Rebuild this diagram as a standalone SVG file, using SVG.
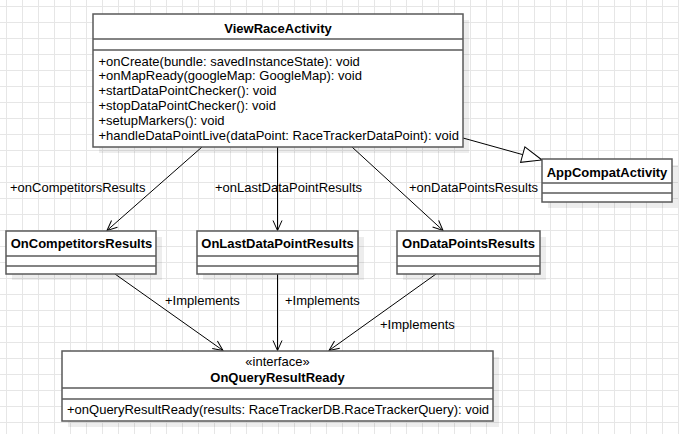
<svg xmlns="http://www.w3.org/2000/svg" width="679" height="434" viewBox="0 0 679 434">
<style>
.box{fill:#ffffff;stroke:#5a5a5a;stroke-width:1.5}
.sh{fill:#000000;fill-opacity:0.07}
.div{stroke:#5a5a5a;stroke-width:1.5}
.t{font-family:"Liberation Sans",Arial,sans-serif;font-size:13px;fill:#000000}
.b{font-weight:bold;text-anchor:middle}
.c{text-anchor:middle}
.edge{stroke:#000000;stroke-width:1;fill:none}
.grid{stroke:#e6e6e6;stroke-width:1}
</style>
<defs>
<marker id="open" markerUnits="userSpaceOnUse" markerWidth="12" markerHeight="12" refX="10" refY="5" orient="auto" overflow="visible">
<path d="M0,0.5 L10,5 L0,9.5" fill="none" stroke="#000000" stroke-width="1"/>
</marker>
<marker id="tri" markerUnits="userSpaceOnUse" markerWidth="22" markerHeight="18" refX="20" refY="8" orient="auto" overflow="visible">
<path d="M0,0 L20,8 L0,16 Z" fill="#ffffff" stroke="#000000" stroke-width="1"/>
</marker>
<pattern id="gp" x="6" y="6" width="16" height="16" patternUnits="userSpaceOnUse">
<path d="M0.5,0 V16 M0,0.5 H16" class="grid"/>
</pattern>
</defs>
<rect x="0" y="0" width="679" height="434" fill="#ffffff"/>
<rect x="0" y="0" width="679" height="434" fill="url(#gp)"/>

<g id="connectors">
<line class="edge" x1="202" y1="147" x2="107" y2="230.5" marker-end="url(#open)"/>
<line class="edge" x1="277.5" y1="147" x2="277.5" y2="230.5" marker-end="url(#open)"/>
<line class="edge" x1="352" y1="147" x2="443" y2="230.5" marker-end="url(#open)"/>
<line class="edge" x1="463" y1="138" x2="542" y2="160" marker-end="url(#tri)"/>
<line class="edge" x1="115" y1="274" x2="223" y2="350.5" marker-end="url(#open)"/>
<line class="edge" x1="277.5" y1="274" x2="277.5" y2="350.5" marker-end="url(#open)"/>
<line class="edge" x1="436" y1="274" x2="329" y2="350.5" marker-end="url(#open)"/>
<text class="t" x="10" y="191.5">+onCompetitorsResults</text>
<text class="t" x="215" y="191.5">+onLastDataPointResults</text>
<text class="t" x="409" y="191.5">+onDataPointsResults</text>
<text class="t" x="165" y="304.5">+Implements</text>
<text class="t" x="285" y="304.5">+Implements</text>
<text class="t" x="380" y="328.5">+Implements</text>
</g>

<g id="ViewRaceActivity">
<rect class="sh" x="99" y="20" width="370" height="133"/>
<rect class="box" x="93" y="14" width="370" height="133"/>
<line class="div" x1="93" y1="39" x2="463" y2="39"/>
<line class="div" x1="93" y1="50" x2="463" y2="50"/>
<text class="t b" x="278" y="33">ViewRaceActivity</text>
<text class="t" x="98.5" y="65.5">+onCreate(bundle: savedInstanceState): void</text>
<text class="t" x="98.5" y="80.3">+onMapReady(googleMap: GoogleMap): void</text>
<text class="t" x="98.5" y="95.1">+startDataPointChecker(): void</text>
<text class="t" x="98.5" y="109.9">+stopDataPointChecker(): void</text>
<text class="t" x="98.5" y="124.7">+setupMarkers(): void</text>
<text class="t" x="98.5" y="139.5">+handleDataPointLive(dataPoint: RaceTrackerDataPoint): void</text>
</g>

<g id="AppCompatActivity">
<rect class="sh" x="548" y="165" width="130" height="43"/>
<rect class="box" x="542" y="159" width="130" height="43"/>
<line class="div" x1="542" y1="183" x2="672" y2="183"/>
<line class="div" x1="542" y1="193" x2="672" y2="193"/>
<text class="t b" x="607" y="176.5">AppCompatActivity</text>
</g>

<g id="OnCompetitorsResults">
<rect class="sh" x="12" y="237" width="150" height="43"/>
<rect class="box" x="6" y="231" width="150" height="43"/>
<line class="div" x1="6" y1="256" x2="156" y2="256"/>
<line class="div" x1="6" y1="266" x2="156" y2="266"/>
<text class="t b" x="81.5" y="248">OnCompetitorsResults</text>
</g>

<g id="OnLastDataPointResults">
<rect class="sh" x="203" y="237" width="161" height="43"/>
<rect class="box" x="197" y="231" width="161" height="43"/>
<line class="div" x1="197" y1="256" x2="358" y2="256"/>
<line class="div" x1="197" y1="266" x2="358" y2="266"/>
<text class="t b" x="277.5" y="248">OnLastDataPointResults</text>
</g>

<g id="OnDataPointsResults">
<rect class="sh" x="403" y="237" width="143" height="43"/>
<rect class="box" x="397" y="231" width="143" height="43"/>
<line class="div" x1="397" y1="256" x2="540" y2="256"/>
<line class="div" x1="397" y1="266" x2="540" y2="266"/>
<text class="t b" x="468.5" y="248">OnDataPointsResults</text>
</g>

<g id="OnQueryResultReady">
<rect class="sh" x="68" y="357" width="431" height="70"/>
<rect class="box" x="62" y="351" width="431" height="70"/>
<line class="div" x1="62" y1="388" x2="493" y2="388"/>
<line class="div" x1="62" y1="399" x2="493" y2="399"/>
<text class="t c" x="277.5" y="366">«interface»</text>
<text class="t b" x="277.5" y="382">OnQueryResultReady</text>
<text class="t" x="67" y="413.5">+onQueryResultReady(results: RaceTrackerDB.RaceTrackerQuery): void</text>
</g>
</svg>
